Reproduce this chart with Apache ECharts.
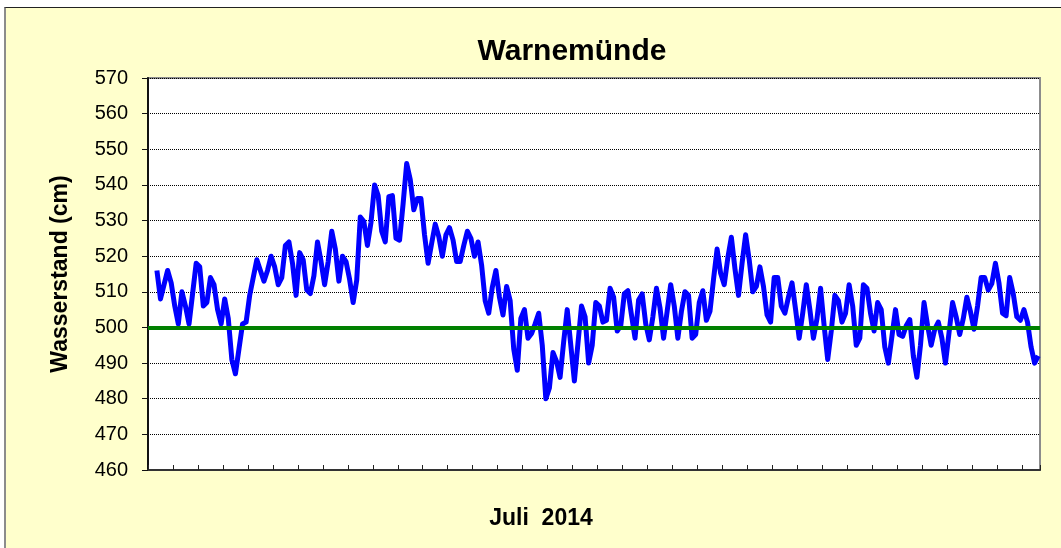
<!DOCTYPE html>
<html>
<head>
<meta charset="utf-8">
<script src="https://cdn.jsdelivr.net/npm/echarts@6/dist/echarts.min.js"></script>
<style>
  body { margin: 0; background: #fff; overflow: hidden; }
  #rahmen {
    position: absolute; left: 4px; top: 7px; width: 1100px; height: 600px;
    background: #ffffcc; border-top: 1px solid #222; border-left: 2px solid #8c8c8c;
  }
  #chart { position: absolute; left: 0; top: 0; width: 1061px; height: 548px; }
</style>
</head>
<body>
<div id="rahmen"></div>
<div id="chart"></div>
<script>
// Wasserstand Warnemünde, Juli 2014, 3-stündlich (cm)
var wasserstand = [
  516, 508, 512, 516, 512.5, 506, 501, 510, 506, 501,
  509.5, 518, 517, 506, 507, 514, 512, 505, 501, 508,
  502.5, 491, 487, 494, 501, 501.5, 509, 514, 519, 516,
  513, 516, 520, 517, 512, 514, 523, 524, 518, 509,
  521, 519, 510.5, 509.5, 514.5, 524, 518.5, 512, 518.5, 527,
  522, 513, 520, 518.5, 513.5, 507, 513.3, 531, 529.7, 523,
  529.5, 540, 537, 527, 524, 536.7, 537, 525, 524.5, 534.7,
  546, 541.5, 533, 536.2, 536.2, 526, 518, 523.6, 529, 525.5,
  520, 526, 528, 524.5, 518.5, 518.5, 523, 527, 525, 520,
  524, 517.5, 507.5, 504, 511.3, 516, 508.5, 503.5, 511.5, 507.5,
  494, 488, 502.5, 505, 497, 498.3, 501, 504, 495, 480,
  483, 493, 490.5, 486, 496, 505, 495, 485, 495.5, 506,
  503, 490, 495, 507, 506, 501.5, 502, 511, 508.5, 499,
  500.5, 509.5, 510.3, 503.5, 497, 507.7, 509.4, 501, 496.5, 503,
  511, 505.5, 497, 504.5, 512, 506, 497, 504.5, 510, 509,
  497, 498, 507, 510.3, 502, 504.5, 513.5, 522, 515.2, 512,
  519.5, 525.3, 516.5, 509, 518, 526, 519, 510, 511.5, 517,
  511.5, 503.5, 501.5, 514, 514, 506, 504, 508.5, 512.5, 505,
  497, 504, 512, 505, 497, 502.5, 511, 500.5, 491, 499,
  509, 507.5, 501.5, 504, 512, 506, 495, 497, 512, 511,
  504, 499, 507, 505, 494.5, 490, 497.5, 505, 498, 497.5,
  500.5, 502.2, 492, 486, 495, 507, 500.5, 495, 499.5, 501.5,
  497, 490, 498.5, 507, 503, 498, 502.5, 508.5, 504.5, 499.5,
  506, 514, 514, 510.5, 512.3, 518, 512.5, 504, 503.3, 514,
  509.5, 503, 502, 505, 501.5, 494.5, 490, 492
];
var mittelwasser = 500;
var ticksY = [460, 470, 480, 490, 500, 510, 520, 530, 540, 550, 560, 570];

// Kategorien: 3-Stunden-Schritte, die ersten beiden ohne Wert
var kategorien = [];
for (var h = -6; h < 744; h += 3) {
  var d = new Date(2014, 6, 1, 0, 0, 0);
  d.setHours(d.getHours() + h);
  kategorien.push(("0" + d.getDate()).slice(-2) + "." + ("0" + (d.getMonth() + 1)).slice(-2) + ". " + ("0" + d.getHours()).slice(-2) + ":00");
}
var reihe = [null, null].concat(wasserstand);

var schrift = "'Liberation Sans', Arial, sans-serif";
var myChart = echarts.init(document.getElementById("chart"));
var option = {
  backgroundColor: "transparent",
  animation: false,
  title: [
    {
      text: "Warnemünde",
      left: 572,
      top: 37,
      padding: 0,
      textAlign: "center",
      textStyle: { fontFamily: schrift, fontSize: 30, fontWeight: "bold", color: "#000" },
    },
    {
      text: "Juli  2014",
      left: 541,
      top: 507,
      padding: 0,
      textAlign: "center",
      textStyle: { fontFamily: schrift, fontSize: 23, fontWeight: "bold", color: "#000" },
    },
  ],
  grid: {
    left: 148,
    top: 78,
    right: 21,
    bottom: 78,
    show: true,
    backgroundColor: "#fff",
    borderColor: "#8c8c8c",
    borderWidth: 2,
  },
  xAxis: {
    type: "category",
    data: kategorien,
    boundaryGap: true,
    axisLine: { show: true, lineStyle: { color: "#333", width: 2 } },
    axisTick: { show: true, inside: true, length: 5, interval: 6, alignWithLabel: false, lineStyle: { color: "#222", width: 1 } },
    axisLabel: { show: false, interval: 6 },
    splitLine: { show: false },
  },
  yAxis: {
    type: "value",
    min: ticksY[0],
    max: ticksY[ticksY.length - 1],
    interval: 10,
    name: "Wasserstand (cm)",
    nameLocation: "middle",
    nameGap: 76,
    nameTextStyle: { fontFamily: schrift, fontSize: 23, fontWeight: "bold", color: "#000" },
    axisLine: { show: true, lineStyle: { color: "#111", width: 2 } },
    axisTick: { show: true, length: 6, lineStyle: { color: "#111" } },
    axisLabel: { margin: 20, fontFamily: schrift, fontSize: 20, color: "#000" },
    splitLine: { lineStyle: { color: "#000", width: 1, type: [1, 1] } },
  },
  series: [
    {
      name: "Wasserstand",
      type: "line",
      data: reihe,
      symbol: "none",
      smooth: false,
      lineStyle: { color: "#0000ff", width: 5, join: "round" },
      markLine: {
        silent: true,
        symbol: "none",
        label: { show: false },
        lineStyle: { color: "#008000", width: 4, type: "solid" },
        data: [{ yAxis: mittelwasser }],
      },
    },
  ],
};
myChart.setOption(option);
</script>
</body>
</html>
